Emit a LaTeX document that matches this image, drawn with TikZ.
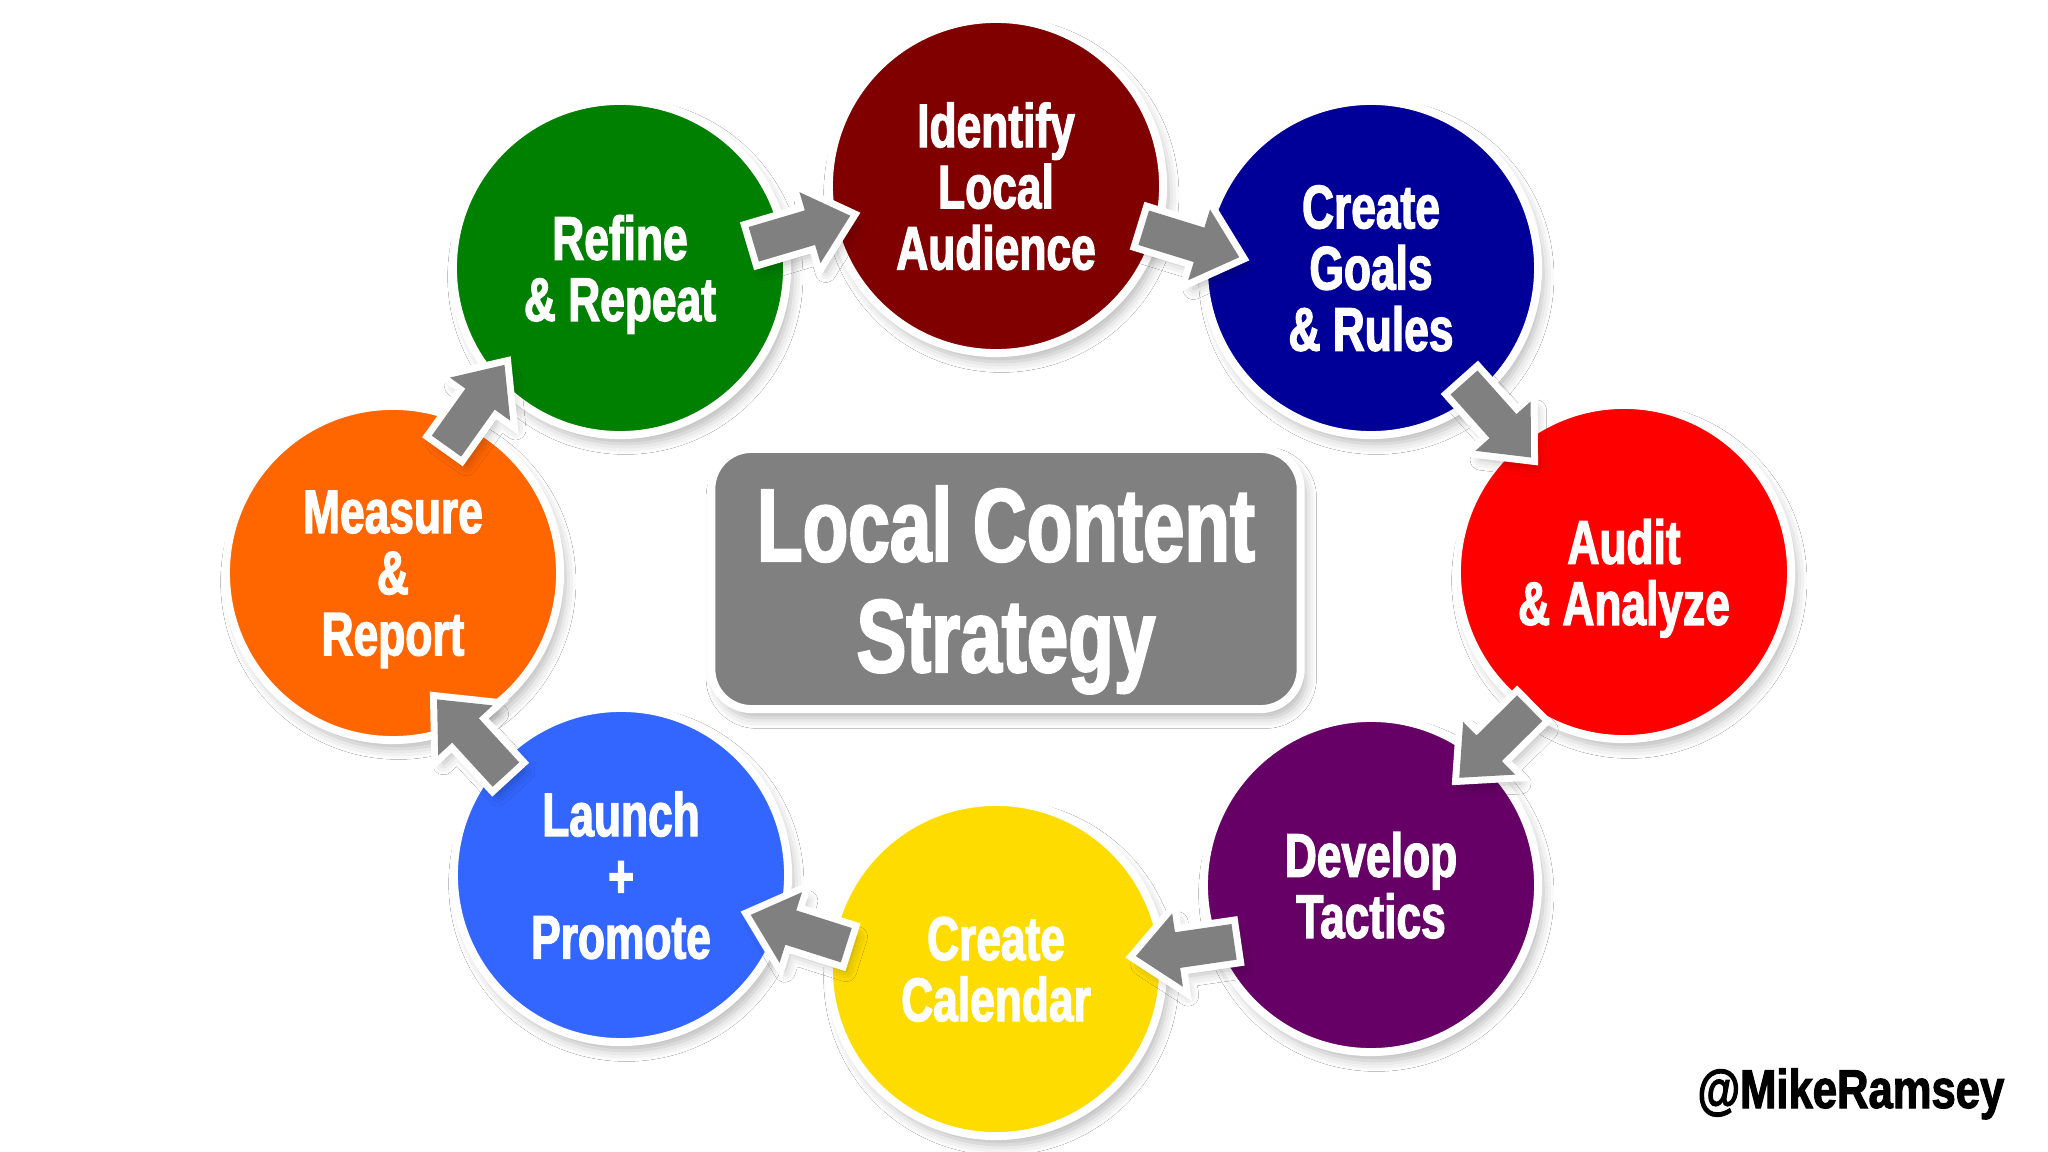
\documentclass[tikz,border=0pt]{standalone}
\usepackage{fontspec}
\newfontfamily\impact[FakeStretch=0.72,FakeBold=2]{Liberation Sans Bold}
\newfontfamily\handlefont[FakeStretch=0.8,FakeBold=2]{Liberation Sans Bold}
\usetikzlibrary{calc,shadows.blur}
\definecolor{cIdent}{RGB}{128,0,0}
\definecolor{cGoals}{RGB}{0,0,153}
\definecolor{cAudit}{RGB}{255,0,0}
\definecolor{cDevel}{RGB}{102,0,102}
\definecolor{cCal}{RGB}{255,220,0}
\definecolor{cLaunch}{RGB}{51,102,255}
\definecolor{cMeasure}{RGB}{255,102,0}
\definecolor{cRefine}{RGB}{0,128,0}
\definecolor{boxgray}{RGB}{128,128,128}
\newcommand\blockarrow[2]{%
  \coordinate (tl) at ($(#1)!0.06cm!(#2)$);
  \coordinate (tp) at ($(#2)!0.06cm!(#1)$);
  \coordinate (nk) at ($(tp)!0.42cm!(tl)$);
  \path[flowarrow] ($(tl)!0.18cm!90:(tp)$) -- ($(nk)!0.18cm!-90:(tl)$) -- ($(nk)!0.37cm!-90:(tl)$)
     -- (tp) -- ($(nk)!0.37cm!90:(tl)$) -- ($(nk)!0.18cm!90:(tl)$) -- ($(tl)!0.18cm!-90:(tp)$) -- cycle;}
\begin{document}
\begin{tikzpicture}[x=0.01cm,y=-0.01cm,
  softshadow/.style={blur shadow={shadow xshift=1.5pt,shadow yshift=-2.5pt,shadow blur radius=3pt,shadow opacity=28}},
  stage/.style={circle,minimum size=3.34cm,inner sep=0pt,draw=white,line width=0.08cm,softshadow,
     text=white,align=center,text depth=0pt,font=\impact\fontsize{17.5}{17.4}\selectfont},
  titlebox/.style={rectangle,rounded corners=0.4cm,minimum width=5.89cm,minimum height=2.60cm,
     fill=boxgray,draw=white,line width=0.08cm,softshadow,text=white,align=center,text depth=0pt,
     font=\impact\fontsize{29.5}{31.5}\selectfont},
  flowarrow/.style={softshadow,preaction={draw=white,line width=0.14cm,line join=miter},fill=boxgray}]
\useasboundingbox (0,0) rectangle (2048,1152);
\fill[white] (0,0) rectangle (2048,1152);

\node[stage,fill=cIdent]   (c1) at (996,186)  {Identify\\Local\\Audience};
\node[stage,fill=cGoals]   (c2) at (1371,268) {Create\\Goals\\\& Rules};
\node[stage,fill=cAudit]   (c3) at (1624,572) {Audit\\\& Analyze};
\node[stage,fill=cDevel]   (c4) at (1371,885) {Develop\\Tactics};
\node[stage,fill=cCal]     (c5) at (996,969)  {Create\\Calendar};
\node[stage,fill=cLaunch]  (c6) at (621,875)  {Launch\\+\\Promote};
\node[stage,fill=cMeasure] (c7) at (393,573)  {Measure\\\&\\Report};
\node[stage,fill=cRefine]  (c8) at (620,268)  {Refine\\\& Repeat};

\node[titlebox] (title) at (1006,579) {Local Content\\Strategy};

\coordinate (a1s) at (748,246);  \coordinate (a1e) at (856,214);
\coordinate (a2s) at (1138,226); \coordinate (a2e) at (1245,259);
\coordinate (a3s) at (1460,378); \coordinate (a3e) at (1535,462);
\coordinate (a4s) at (1534,704); \coordinate (a4e) at (1455,782);
\coordinate (a5s) at (1240,941); \coordinate (a5e) at (1130,957);
\coordinate (a6s) at (852,947);  \coordinate (a6e) at (745,913);
\coordinate (a7s) at (510,779);  \coordinate (a7e) at (433,695);
\coordinate (a8s) at (443,451);  \coordinate (a8e) at (508,360);
\blockarrow{a1s}{a1e}
\blockarrow{a2s}{a2e}
\blockarrow{a3s}{a3e}
\blockarrow{a4s}{a4e}
\blockarrow{a5s}{a5e}
\blockarrow{a6s}{a6e}
\blockarrow{a7s}{a7e}
\blockarrow{a8s}{a8e}

\node[anchor=base east,inner sep=0pt,text=black,font=\handlefont\fontsize{15.5}{18}\selectfont] (handle) at (2005,1108) {@MikeRamsey};
\end{tikzpicture}
\end{document}
